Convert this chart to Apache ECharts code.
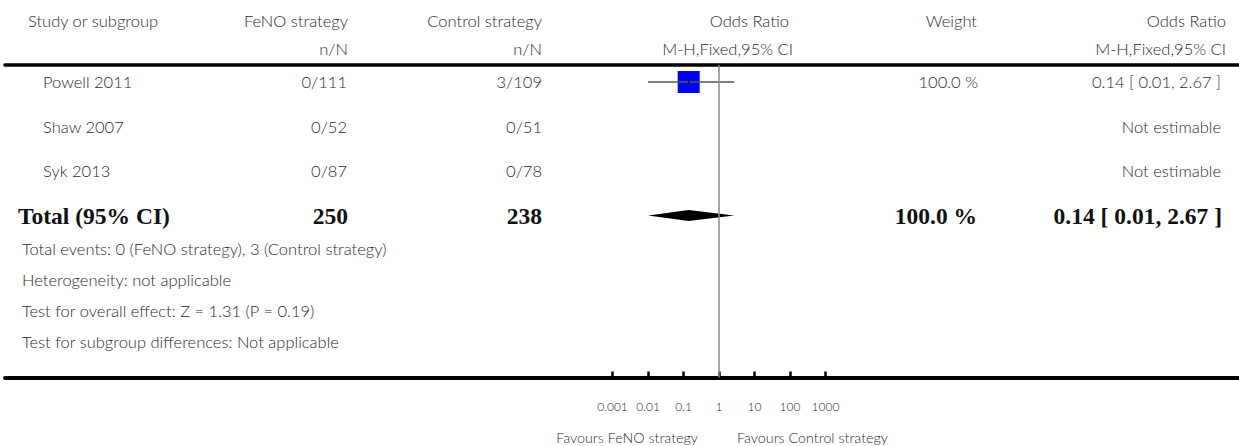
<!DOCTYPE html>
<html>
<head>
<meta charset="utf-8">
<script src="https://cdn.jsdelivr.net/npm/echarts@6/dist/echarts.min.js"></script>
<style>
  html, body { margin: 0; padding: 0; background: #fff; }
  #chart { width: 1239px; height: 446px; }
</style>
</head>
<body>
<div id="chart"></div>
<script>
  // study rows
  var studies = ['Powell 2011', 'Shaw 2007', 'Syk 2013'];
  var fenoEvents = ['0/111', '0/52', '0/87'];
  var controlEvents = ['3/109', '0/51', '0/78'];
  var studyWeights = ['100.0 %', '', ''];
  var studyOrText = ['0.14 [ 0.01, 2.67 ]', 'Not estimable', 'Not estimable'];
  var studyOr = [0.14, null, null];
  var studyLow = [0.01, null, null];
  var studyHigh = [2.67, null, null];

  // pooled row
  var totalLabel = 'Total (95% CI)';
  var totalFeno = '250';
  var totalControl = '238';
  var totalWeight = '100.0 %';
  var totalOrText = '0.14 [ 0.01, 2.67 ]';
  var totalOr = [0.14];
  var totalLow = [0.01];
  var totalHigh = [2.67];

  var footnotes = [
    'Total events: 0 (FeNO strategy), 3 (Control strategy)',
    'Heterogeneity: not applicable',
    'Test for overall effect: Z = 1.31 (P = 0.19)',
    'Test for subgroup differences: Not applicable'
  ];

  // axis ticks (odds ratio, log scale)
  var tickValues = [0.001, 0.01, 0.1, 1, 10, 100, 1000];
  var favoursLeft = 'Favours FeNO strategy';
  var favoursRight = 'Favours Control strategy';

  // layout
  var W = 1239, H = 446;
  var centerX = 719, decade = 35.5;      // pixel of OR=1, pixels per decade
  var gridLeft = 5;
  var rowTop = 82, rowStep = 44.5;        // first study row centre, row spacing
  var gridTop = 65, axisY = 377.5;
  var sans = 'Lato, "Noto Sans", sans-serif';
  var serif = '"Liberation Serif", "DejaVu Serif", serif';
  var ink = '#2b2b2b';

  var lg = function (v) { return Math.log(v) / Math.LN10; };

  var chart = echarts.init(document.getElementById('chart'), null, { renderer: 'svg' });

  var studyData = [];
  for (var i = 0; i < studies.length; i++) {
    if (studyOr[i] != null) {
      studyData.push([lg(studyOr[i]), lg(studyLow[i]), lg(studyHigh[i]), i]);
    }
  }
  var totalData = [[lg(totalOr[0]), lg(totalLow[0]), lg(totalHigh[0]), studies.length]];

  var graphics = [];
  function txt(x, y, s, align, opts) {
    opts = opts || {};
    graphics.push({
      type: 'text', x: x, y: y, silent: true,
      style: {
        text: s, align: align, verticalAlign: 'middle',
        font: (opts.bold ? 'bold ' : '300 ') + (opts.size || 16.5) + 'px ' + (opts.family || sans),
        fill: opts.color || ink
      }
    });
  }

  // header
  txt(28, 21, 'Study or subgroup', 'left');
  txt(348, 21, 'FeNO strategy', 'right');
  txt(348, 49, 'n/N', 'right');
  txt(542, 21, 'Control strategy', 'right');
  txt(542, 49, 'n/N', 'right');
  txt(789, 21, 'Odds Ratio', 'right');
  txt(793, 49, 'M-H,Fixed,95% CI', 'right');
  txt(977, 21, 'Weight', 'right');
  txt(1226, 21, 'Odds Ratio', 'right');
  txt(1226, 49, 'M-H,Fixed,95% CI', 'right');

  // study rows
  for (var r = 0; r < studies.length; r++) {
    var y = rowTop + r * rowStep;
    txt(43, y, studies[r], 'left');
    txt(347, y, fenoEvents[r], 'right');
    txt(542, y, controlEvents[r], 'right');
    if (studyWeights[r]) txt(978, y, studyWeights[r], 'right');
    txt(1221, y, studyOrText[r], 'right');
  }

  // total row
  var ty = rowTop + studies.length * rowStep;
  var bold = { bold: true, size: 23.5, family: serif, color: '#111' };
  txt(18, ty, totalLabel, 'left', bold);
  txt(348, ty, totalFeno, 'right', bold);
  txt(542, ty, totalControl, 'right', bold);
  txt(977, ty, totalWeight, 'right', bold);
  txt(1222, ty, totalOrText, 'right', bold);

  // footnotes
  var footY = [249, 280, 311, 342];
  for (var f = 0; f < footnotes.length; f++) txt(22, footY[f], footnotes[f], 'left');

  // favours labels
  txt(698, 437, favoursLeft, 'right', { size: 14.3 });
  txt(737, 437, favoursRight, 'left', { size: 14.3 });

  var xMin = (gridLeft - centerX) / decade;
  var xMax = (W - centerX) / decade;
  var tickPos = tickValues.map(lg);

  chart.setOption({
    animation: false,
    grid: { left: gridLeft, right: 0, top: gridTop, bottom: H - axisY },
    xAxis: [
      {
        type: 'value', position: 'bottom', min: xMin, max: xMax,
        axisLine: { show: true, onZero: false, lineStyle: { color: '#000', width: 4 } },
        axisTick: { show: true, inside: true, length: 6, customValues: tickPos, lineStyle: { color: '#000', width: 2.5 } },
        axisLabel: {
          show: true, customValues: tickPos, margin: 23, color: ink, fontSize: 12, fontWeight: 300, fontFamily: sans,
          formatter: function (v) {
            var p = Math.round(v);
            return p < 0 ? Math.pow(10, p).toFixed(-p) : String(Math.pow(10, p));
          }
        },
        splitLine: { show: false }
      },
      {
        type: 'value', position: 'top', min: xMin, max: xMax,
        axisLine: { show: true, onZero: false, lineStyle: { color: '#000', width: 3.5 } },
        axisTick: { show: false }, axisLabel: { show: false }, splitLine: { show: false }
      }
    ],
    yAxis: {
      type: 'value', inverse: true,
      min: (gridTop - rowTop) / rowStep, max: (axisY - rowTop) / rowStep,
      show: false
    },
    graphic: graphics,
    series: [
      {
        type: 'custom', name: 'studies', data: studyData, z: 3,
        renderItem: function (params, api) {
          var row = api.value(3);
          var pt = api.coord([api.value(0), row]);
          var lo = api.coord([api.value(1), row]);
          var hi = api.coord([api.value(2), row]);
          var half = 11;
          return {
            type: 'group', children: [
              { type: 'rect', shape: { x: pt[0] - half, y: pt[1] - half, width: half * 2, height: half * 2 }, style: { fill: '#0000ff' } },
              { type: 'line', shape: { x1: lo[0], y1: lo[1], x2: hi[0], y2: hi[1] }, style: { stroke: '#555', lineWidth: 1.5 } },
              { type: 'line', shape: { x1: pt[0], y1: pt[1] - 2.5, x2: pt[0], y2: pt[1] + 2.5 }, style: { stroke: '#000', lineWidth: 1 } }
            ]
          };
        },
        markLine: {
          silent: true, symbol: 'none', label: { show: false },
          lineStyle: { color: '#8a8a8a', width: 1.5, type: 'solid' },
          data: [{ xAxis: 0 }]
        }
      },
      {
        type: 'custom', name: 'total', data: totalData, z: 3,
        renderItem: function (params, api) {
          var row = api.value(3);
          var pt = api.coord([api.value(0), row]);
          var lo = api.coord([api.value(1), row]);
          var hi = api.coord([api.value(2), row]);
          var h = 5.5;
          return {
            type: 'polygon',
            shape: { points: [[lo[0], lo[1]], [pt[0], pt[1] - h], [hi[0], hi[1]], [pt[0], pt[1] + h]] },
            style: { fill: '#000' }
          };
        }
      }
    ]
  });
</script>
</body>
</html>
